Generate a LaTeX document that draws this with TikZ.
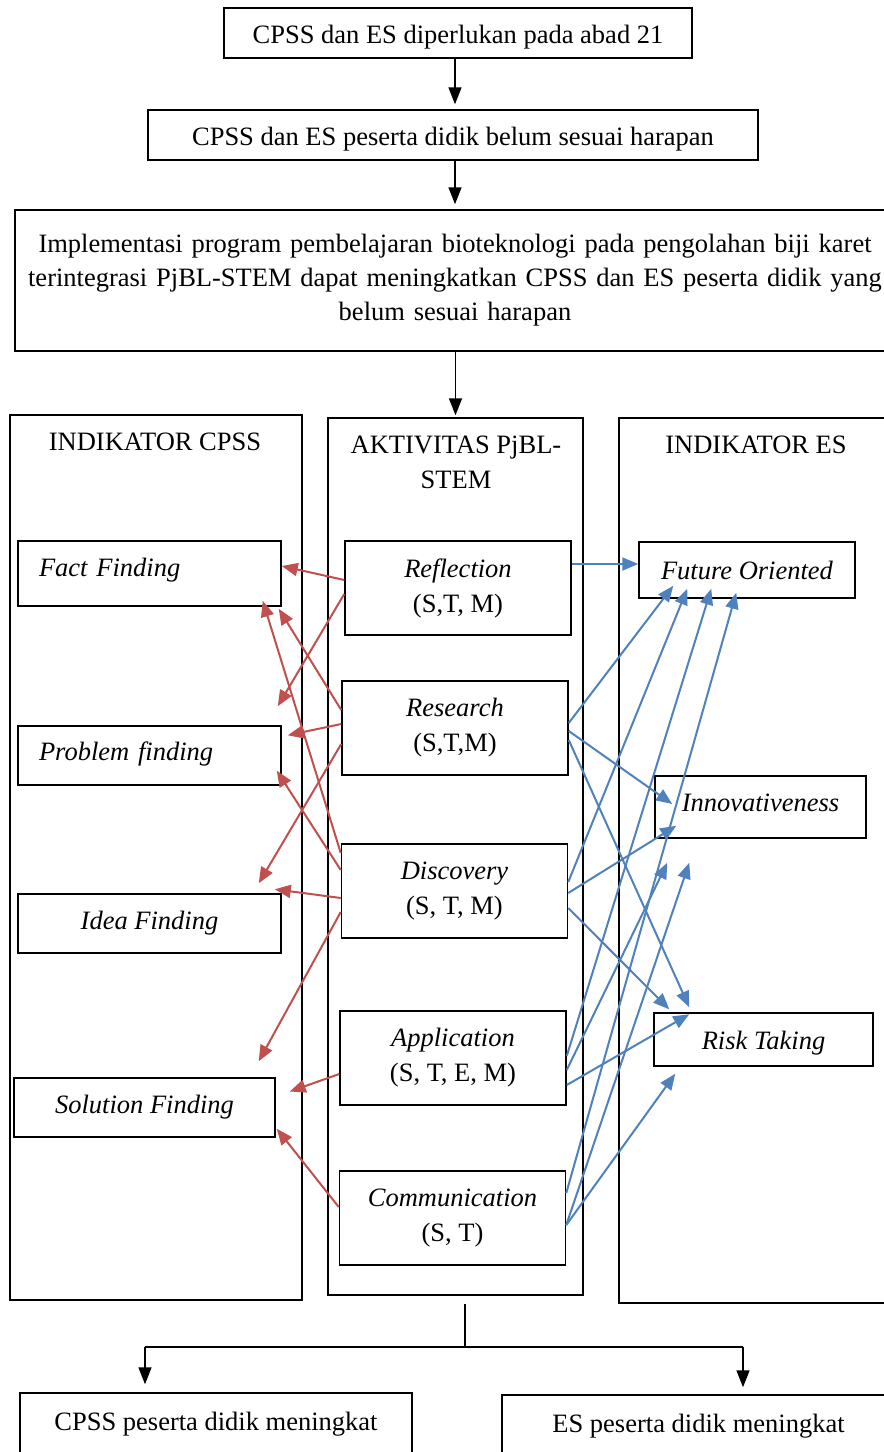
\documentclass[tikz,border=0pt]{standalone}
\usepackage{fontspec}
\setmainfont{Liberation Serif}
\usetikzlibrary{arrows.meta,positioning,calc}

\definecolor{linkred}{RGB}{192,80,77}
\definecolor{linkblue}{RGB}{79,129,189}

\tikzset{
  box/.style={draw, line width=1.5pt, inner sep=0pt, align=center},
  blk/.style={line width=1.6pt, -{Triangle[length=17pt,width=13pt]}},
  redarr/.style={draw=linkred, line width=2pt, -{Triangle[length=16pt,width=13pt]}},
  bluearr/.style={draw=linkblue, line width=2pt, -{Triangle[length=16pt,width=13pt]}}
}

\begin{document}
\begin{tikzpicture}[x=1pt, y=-1pt, font=\fontsize{26.5}{34}\selectfont]

\path[use as bounding box, clip] (0,0) rectangle (884,1452);

% Top of the flow
\node[box, minimum width=468pt, minimum height=50pt, text height=21.6pt, text depth=0pt] (top1) at (458,33) {CPSS dan ES diperlukan pada abad 21};
\node[box, minimum width=610pt, minimum height=50pt, text height=21.6pt, text depth=0pt] (top2) at (453,135) {CPSS dan ES peserta didik belum sesuai harapan};
\node[box, minimum width=880pt, minimum height=141pt, text width=860pt] (impl) at (455,280.5) {Implementasi program pembelajaran bioteknologi pada pengolahan biji karet\\
terintegrasi PjBL-STEM dapat meningkatkan CPSS dan ES peserta didik yang\\
belum sesuai harapan};

\draw[blk, shorten >=5pt] (top1.south -| impl) -- (top2.north -| impl);
\draw[blk, shorten >=5pt] (top2.south -| impl) -- (impl.north);

% Three columns
\node[box, minimum width=292pt, minimum height=885pt] (colL) at (156,857.5) {};
\node[box, minimum width=255pt, minimum height=877pt] (colM) at (455.5,856.5) {};
\node[box, minimum width=286pt, minimum height=885pt] (colR) at (762,860.5) {};

\draw[blk, shorten >=2pt] (impl.south -| colM) -- (colM.north);

\node (hdrL) at (155,442) {INDIKATOR CPSS};
\node[align=center, font=\fontsize{26.5}{35}\selectfont] (hdrM) at (456,462) {AKTIVITAS PjBL-\\STEM};
\node (hdrR) at (756,445) {INDIKATOR ES};

% Indikator CPSS
\node[box, minimum width=263pt, minimum height=65pt, text width=221pt, inner xsep=21pt, align=left, text depth=12pt] (fact) at (149.5,573.5) {\itshape Fact Finding};
\node[box, minimum width=263pt, minimum height=59pt, text width=221pt, inner xsep=21pt, align=left, text depth=8pt] (prob) at (149.5,755.5) {\itshape Problem finding};
\node[box, minimum width=263pt, minimum height=59pt] (idea) at (149.5,923.5) {\itshape Idea Finding};
\node[box, minimum width=261pt, minimum height=59pt] (sol) at (144.5,1107.5) {\itshape Solution Finding};

% Aktivitas PjBL-STEM
\begin{scope}[every node/.style={box, minimum width=226pt, minimum height=94pt, font=\fontsize{26.5}{35}\selectfont}]
\node (refl) at (458,588) {\textit{Reflection}\\(S,T, M)};
\node (res) at (455,728) {\textit{Research}\\(S,T,M)};
\node (disc) at (454.5,891) {\textit{Discovery}\\(S, T, M)};
\node (app) at (453,1058) {\textit{Application}\\(S, T, E, M)};
\node (comm) at (452.5,1218) {\textit{Communication}\\(S, T)};
\end{scope}

% Indikator ES
\node[box, minimum width=216pt, minimum height=56pt] (fut) at (747,570) {\itshape Future Oriented};
\node[box, minimum width=211pt, minimum height=62pt, text depth=9pt] (inno) at (760.5,807) {\itshape Innovativeness};
\node[box, minimum width=219pt, minimum height=53pt, text height=20.5pt, text depth=0pt] (risk) at (763.5,1039.5) {\itshape Risk Taking};

% Links to CPSS
\draw[redarr] (refl.west |- 0,580) -- (fact.east |- 0,566);
\draw[redarr] (refl.west |- 0,594) -- ($(prob.north east)+(-4,-19)$);
\draw[redarr] (res.west |- 0,710) -- ($(fact.south east)+(-3,2)$);
\draw[redarr] (res.west |- 0,724) -- ($(prob.north east)+(6,10)$);
\draw[redarr] (res.west |- 0,744) -- ($(idea.north east)+(-23,-10)$);
\draw[redarr] (disc.west |- 0,853) -- ($(fact.south east)+(-19,-6)$);
\draw[redarr] (disc.west |- 0,870) -- ($(prob.south east)+(-5,-15)$);
\draw[redarr] (disc.west |- 0,898) -- ($(idea.north east)+(-7,-4)$);
\draw[redarr] (disc.west |- 0,912) -- ($(sol.north east)+(-17,-16)$);
\draw[redarr] (app.west |- 0,1074) -- ($(sol.east)+(14,-16)$);
\draw[redarr] (comm.west |- 0,1207) -- ($(sol.south east)+(1,-9)$);

% Links to ES
\draw[bluearr] (refl.east |- 0,564) -- (fut.west |- 0,564);
\draw[bluearr] (res.east |- 0,723) -- ($(fut.south west)+(35,-13)$);
\draw[bluearr] (res.east |- 0,731) -- ($(inno.west)+(18,-3)$);
\draw[bluearr] (res.east |- 0,740) -- ($(risk.north west)+(36,-5)$);
\draw[bluearr] (disc.east |- 0,882) -- ($(fut.south west)+(49,-10)$);
\draw[bluearr] (disc.east |- 0,893) -- ($(inno.south west)+(22,-13)$);
\draw[bluearr] (disc.east |- 0,908) -- ($(risk.north west)+(16,-3)$);
\draw[bluearr] (app.east |- 0,1056) -- ($(fut.south west)+(73,-10)$);
\draw[bluearr] (app.east |- 0,1070) -- ($(inno.south west)+(13,24)$);
\draw[bluearr] (app.east |- 0,1085) -- ($(risk.north west)+(36,2)$);
\draw[bluearr] (comm.east |- 0,1193) -- ($(fut.south west)+(98,-6)$);
\draw[bluearr] (comm.east |- 0,1225) -- ($(inno.south west)+(35,24)$);
\draw[bluearr] (comm.east |- 0,1225) -- ($(risk.south west)+(22,7)$);

% Outcomes
\coordinate (split) at (465,1347);
\coordinate (brL) at (145,1347);
\coordinate (brR) at (743,1347);

\node[box, minimum width=392pt, minimum height=90pt] (outL) at (216,1438) {CPSS peserta didik meningkat\\ ~};
\node[box, minimum width=393pt, minimum height=90pt] (outR) at (698.5,1440) {ES peserta didik meningkat\\ ~};

\draw[line width=1.6pt] ([yshift=-8pt]colM.south -| split) -- (split);
\draw[line width=1.6pt] (brL) -- (brR);
\draw[blk] (brL) -- ([yshift=8pt]brL |- outL.north);
\draw[blk] (brR) -- ([yshift=7pt]brR |- outR.north);

\end{tikzpicture}
\end{document}
